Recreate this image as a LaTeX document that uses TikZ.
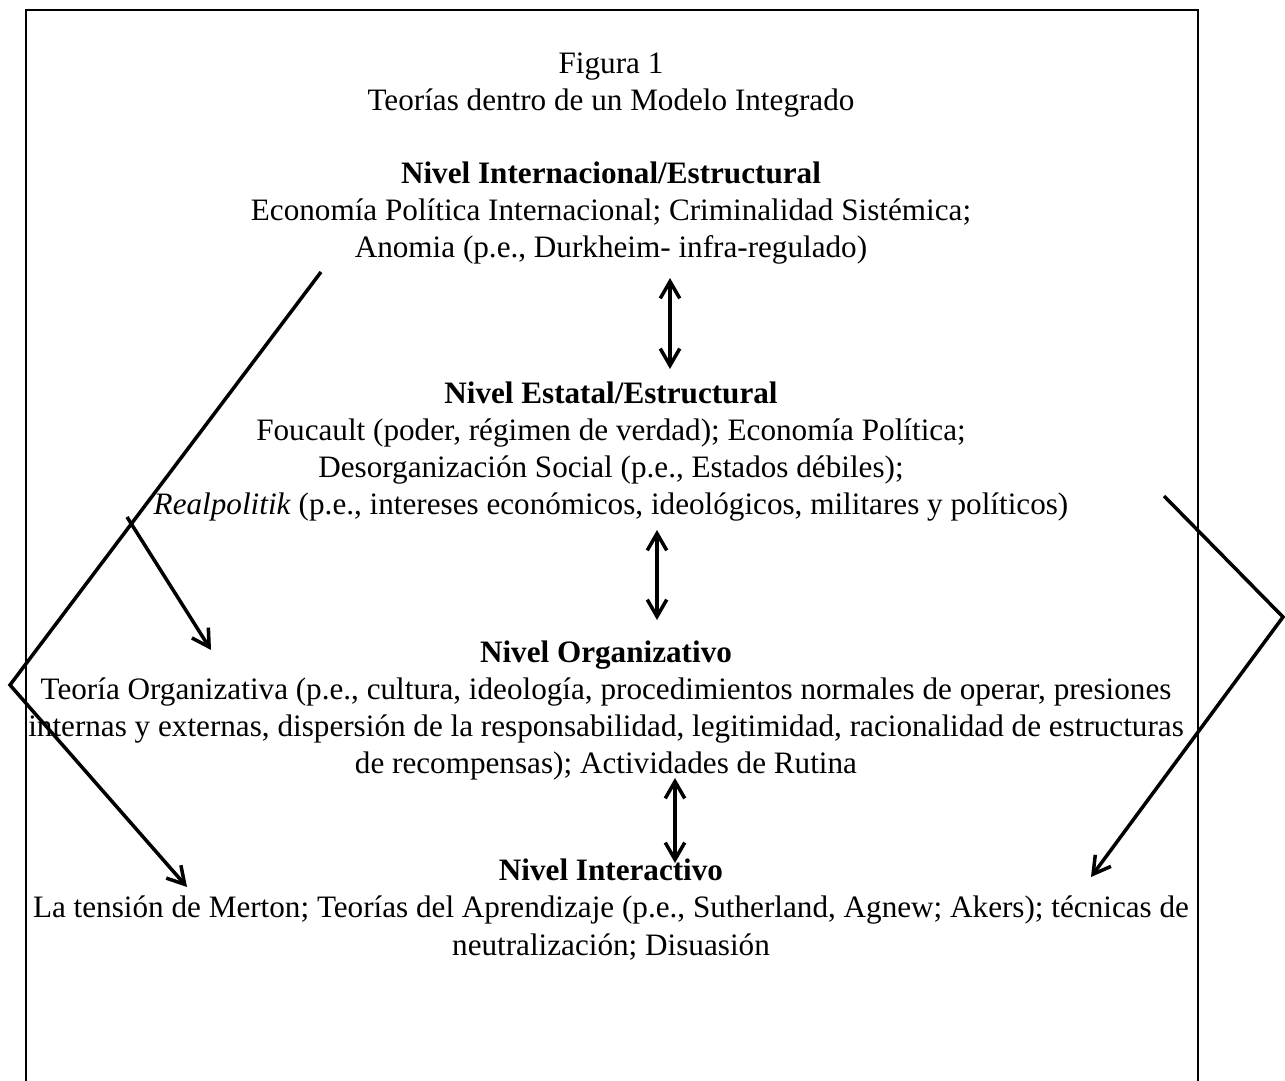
\documentclass[tikz,border=0pt]{standalone}
\usepackage{fontspec}
\setmainfont{Liberation Serif}
\usetikzlibrary{arrows.meta, positioning}

\begin{document}
\begin{tikzpicture}[x=0.385pt, y=-0.385pt,
    nivel/.style={align=center, anchor=base, inner sep=0pt, font=\fontsize{12}{14.25}\selectfont},
    flecha/.style={line width=1.35pt, -{Straight Barb[length=6.5pt, width=7.5pt]}},
    doble/.style={line width=1.35pt, {Straight Barb[length=6.5pt, width=7.5pt]}-{Straight Barb[length=6.5pt, width=7.5pt]}}]
    \useasboundingbox (0,0) rectangle (1285,1081);

    % Marco
    \draw[line width=0.8pt] (26,1081) -- (26,10) -- (1198,10) -- (1198,1081);

    % Titulo (base = ultima linea)
    \node[nivel] (titulo) at (611,111) {Figura 1\\Teorías dentro de un Modelo Integrado};

    % Niveles
    \node[nivel] (internacional) at (611,258) {\textbf{Nivel Internacional/Estructural}\\
        Economía Política Internacional; Criminalidad Sistémica;\\
        Anomia (p.e., Durkheim- infra-regulado)};
    \node[nivel] (estatal) at (611,515) {\textbf{Nivel Estatal/Estructural}\\
        Foucault (poder, régimen de verdad); Economía Política;\\
        Desorganización Social (p.e., Estados débiles);\\
        \textit{Realpolitik} (p.e., intereses económicos, ideológicos, militares y políticos)};
    \node[nivel] (organizativo) at (606,774) {\textbf{Nivel Organizativo}\\
        Teoría Organizativa (p.e., cultura, ideología, procedimientos normales de operar, presiones\\
        internas y externas, dispersión de la responsabilidad, legitimidad, racionalidad de estructuras\\
        de recompensas); Actividades de Rutina};
    \node[nivel] (interactivo) at (611,955) {\textbf{Nivel Interactivo}\\
        La tensión de Merton; Teorías del Aprendizaje (p.e., Sutherland, Agnew; Akers); técnicas de\\
        neutralización; Disuasión};

    % Puntos de las flechas
    \coordinate (intA) at (670,278);
    \coordinate (intB) at (670,369);
    \coordinate (estA) at (657,530);
    \coordinate (estB) at (657,620);
    \coordinate (orgA) at (675,778);
    \coordinate (orgB) at (675,863);
    \coordinate (izqA) at (321,272);
    \coordinate (izqV) at (10,685);
    \coordinate (izqB) at (187,887);
    \coordinate (ramA) at (127,517);
    \coordinate (ramB) at (211,650);
    \coordinate (derA) at (1164,496);
    \coordinate (derV) at (1283,617);
    \coordinate (derB) at (1091,877);

    % Flechas dobles entre niveles
    \draw[doble] (intA) -- (intB);
    \draw[doble] (estA) -- (estB);
    \draw[doble] (orgA) -- (orgB);

    % Flechas laterales
    \draw[flecha] (izqA) -- (izqV) -- (izqB);
    \draw[flecha] (ramA) -- (ramB);
    \draw[flecha] (derA) -- (derV) -- (derB);
\end{tikzpicture}
\end{document}
